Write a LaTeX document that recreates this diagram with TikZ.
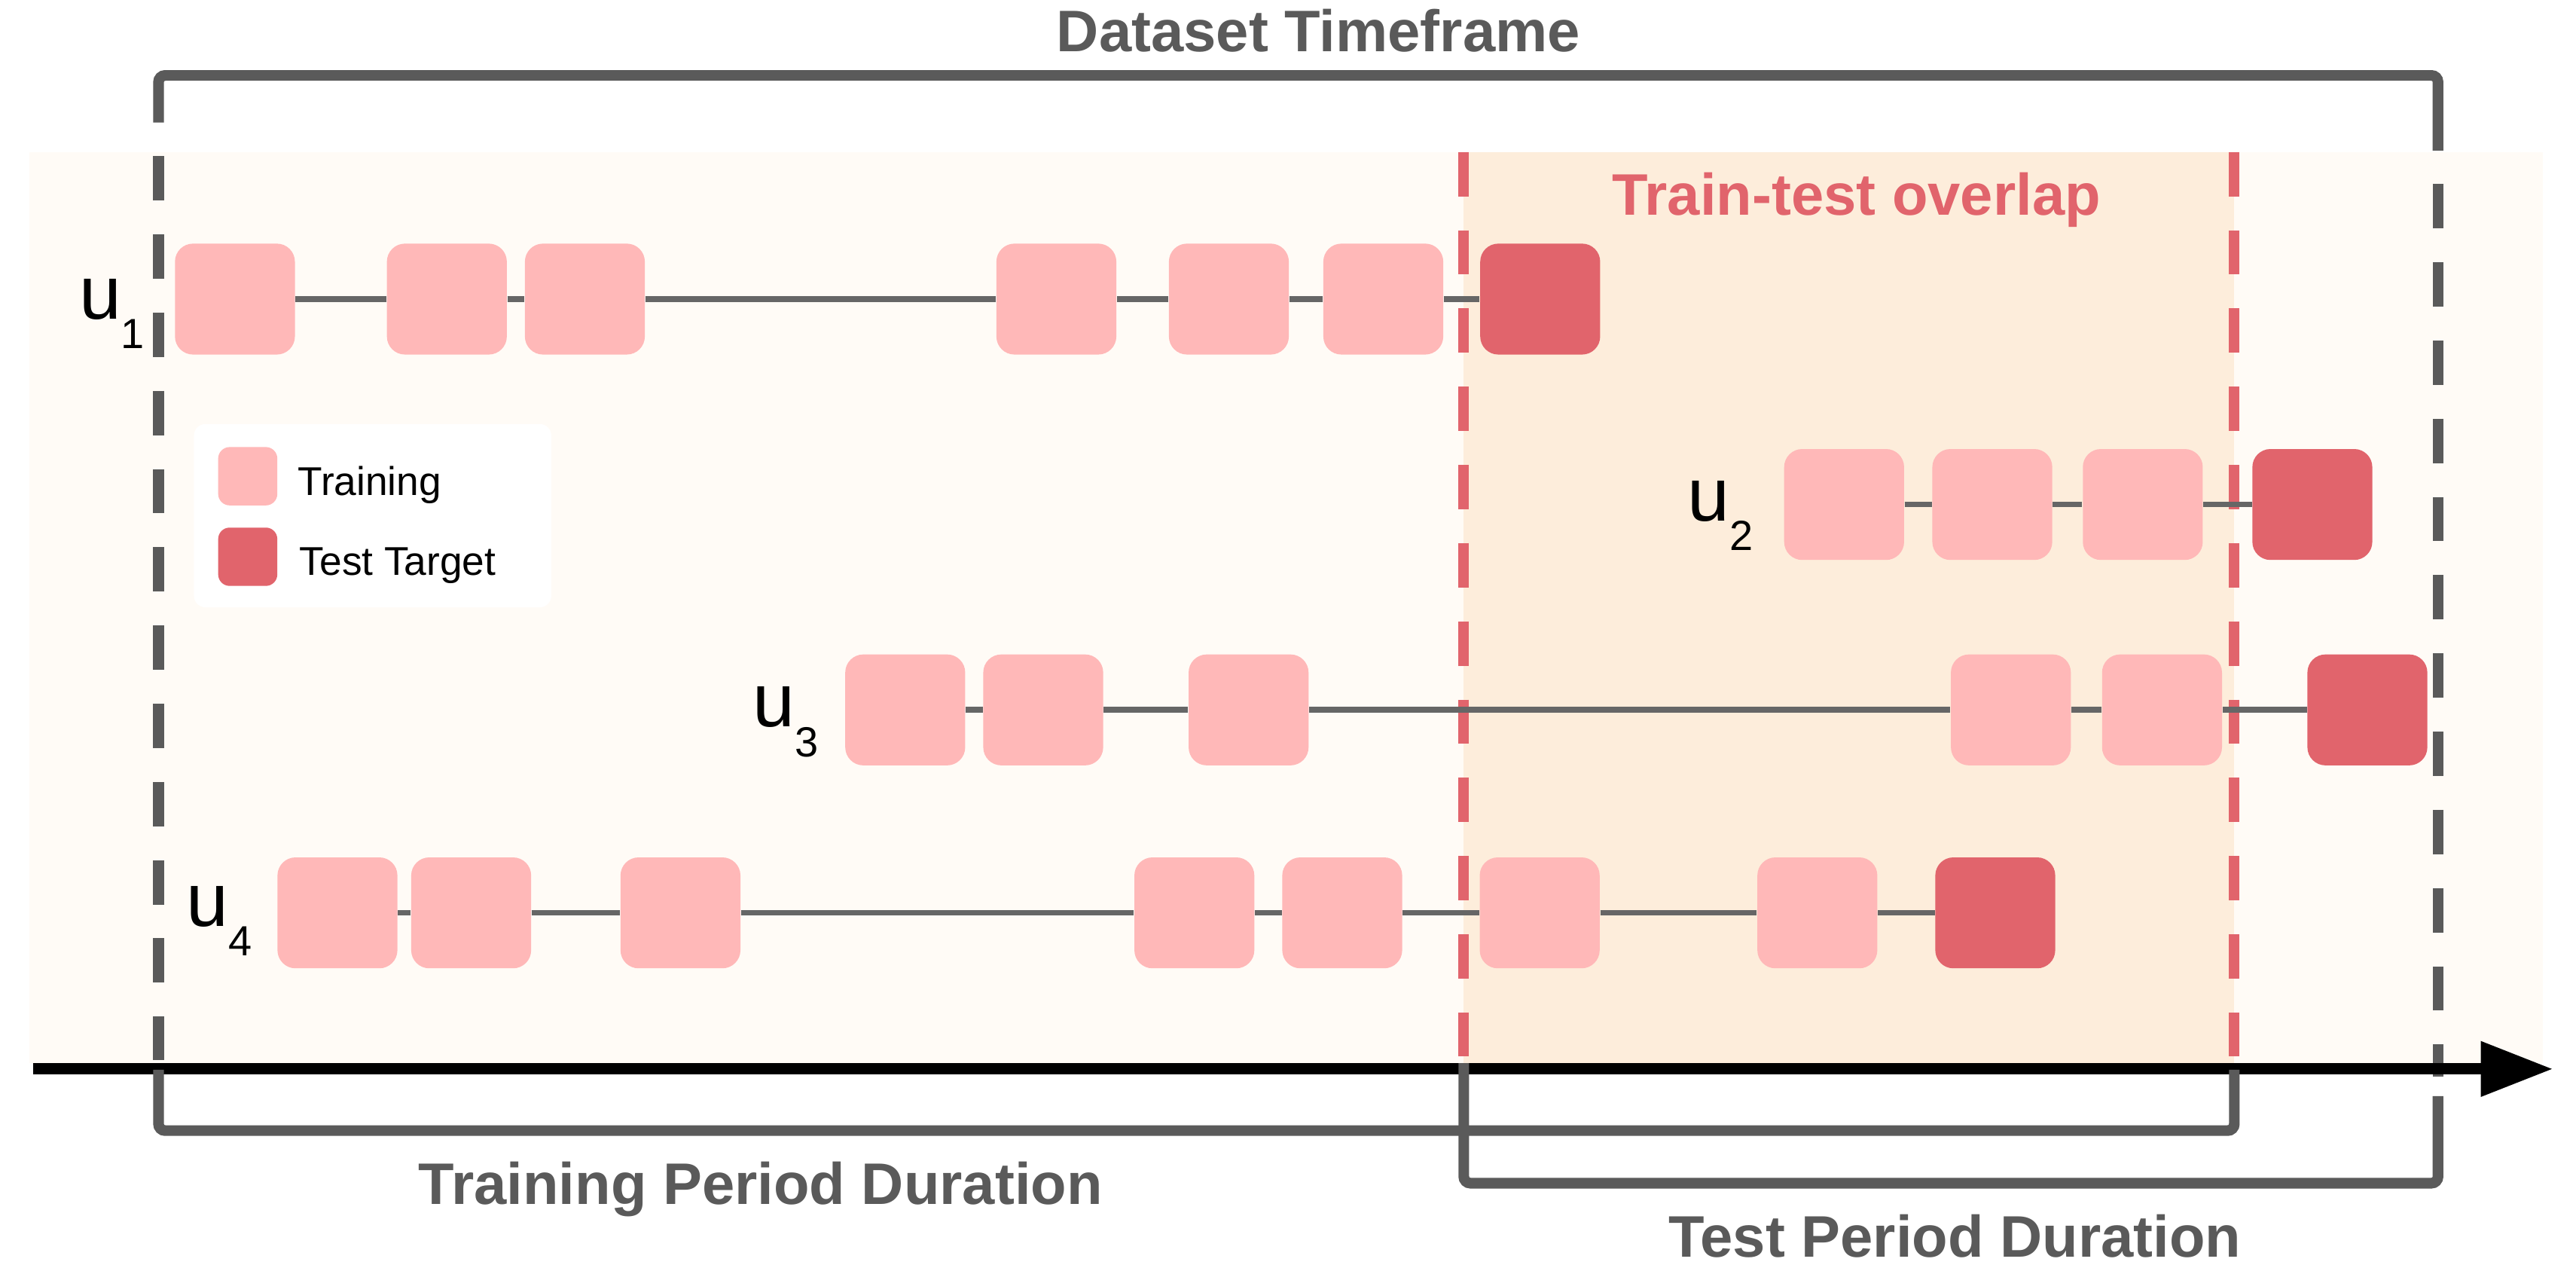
\documentclass[tikz,border=0pt]{standalone}
\usepackage{fontspec}
\setmainfont{Liberation Sans}
\usetikzlibrary{arrows.meta}
\definecolor{BandClr}{HTML}{FFFBF6}
\definecolor{OverlapClr}{HTML}{FDEDDB}
\definecolor{TrainClr}{HTML}{FFB8B8}
\definecolor{TestClr}{HTML}{E1646C}
\definecolor{FrameClr}{HTML}{5A5A5A}
\definecolor{SeqClr}{HTML}{666666}

\tikzset{
  evt/.style={minimum width=14.6mm,minimum height=13.5mm,rounded corners=2.2mm,inner sep=0pt},
  trainevt/.style={evt,fill=TrainClr},
  testevt/.style={evt,fill=TestClr},
  keyevt/.style={minimum width=7.2mm,minimum height=7.1mm,rounded corners=1.4mm},
  seq/.style={draw=SeqClr,line width=0.7mm},
  frame/.style={draw=FrameClr,line width=1.3mm,rounded corners=0.8mm},
  dashframe/.style={frame,dash pattern=on 5.4mm off 4.12mm},
  overlapline/.style={draw=TestClr,line width=1.3mm,dash pattern=on 5.4mm off 4.12mm},
  periodlbl/.style={text=FrameClr,font=\fontsize{20.3}{24}\selectfont\bfseries,anchor=base,inner sep=0pt},
  userlbl/.style={anchor=base west,inner sep=0pt,font=\fontsize{26.2}{30}\selectfont},
  keylbl/.style={anchor=base west,inner sep=0pt,font=\fontsize{13.9}{16}\selectfont},
}
\newcommand{\usr}[1]{u\raisebox{-3.6mm}{\fontsize{14.6}{16}\selectfont #1}}

\begin{document}
\begin{tikzpicture}[x=0.2mm,y=-0.2mm]
\useasboundingbox (0,0) rectangle (1568,773);

\fill[BandClr] (18,92.5) rectangle (1548,647);
\fill[OverlapClr] (891,92.5) rectangle (1360,647);
\draw[overlapline] (891,92.5) -- (891,643);
\draw[overlapline] (1360,92.5) -- (1360,643);

\foreach \x [count=\i] in {143,272,356,643,748,842}
  \node[trainevt] (a\i) at (\x,182) {};
\node[testevt] (a7) at (937.5,182) {};
\foreach \x [count=\i] in {1122.5,1212.7,1304.3}
  \node[trainevt] (b\i) at (\x,307) {};
\node[testevt] (b4) at (1407.5,307) {};
\foreach \x [count=\i] in {551,635,760,1224,1316}
  \node[trainevt] (c\i) at (\x,432) {};
\node[testevt] (c6) at (1441,432) {};
\foreach \x [count=\i] in {205.4,286.8,414.2,727,817,937.2,1106.2}
  \node[trainevt] (d\i) at (\x,555.5) {};
\node[testevt] (d8) at (1214.5,555.5) {};

\foreach \r/\n in {a/6,b/3,c/5,d/7}
  \foreach \i in {1,...,\n}{
    \pgfmathtruncatemacro\j{\i+1}
    \draw[seq] (\r\i) -- (\r\j);
  }

\node[userlbl] (u1) at (47.8,194) {\usr{1}};
\node[userlbl] (u2) at (1027,317) {\usr{2}};
\node[userlbl] (u3) at (458,442.4) {\usr{3}};
\node[userlbl] (u4) at (113,563.6) {\usr{4}};

\node[fill=white,rounded corners=1.4mm,minimum width=43.5mm,minimum height=22.3mm,inner sep=0pt] (key) at (226.8,313.8) {};
\node[keyevt,fill=TrainClr] (keytrain) at (150.8,289.8) {};
\node[keyevt,fill=TestClr] (keytest) at (150.8,338.8) {};
\node[keylbl] (keytraintxt) at (181,301.6) {Training};
\node[keylbl] (keytesttxt) at (182,350) {Test Target};

\draw[frame] (96.5,74.6) -- (96.5,45.9) -- (1484,45.9) -- (1484,91.6);
\draw[dashframe] (96.5,95) -- (96.5,645);
\draw[dashframe] (1484,112) -- (1484,655);

\coordinate (t0) at (20,650.5);
\coordinate (t1) at (1554,650.5);
\draw[line width=1.4mm,-{Triangle[length=8.8mm,width=6.4mm]}] (t0) -- (t1);

\draw[frame] (96.5,651) -- (96.5,688) -- (1360,688) -- (1360,651);
\draw[frame] (891,647) -- (891,720) -- (1484,720) -- (1484,667);

\node[periodlbl] (dset) at (802.5,31.3) {Dataset Timeframe};
\node[periodlbl,text=TestClr] (overlap) at (1130,131) {Train-test overlap};
\node[periodlbl] (trainper) at (463,733) {Training Period Duration};
\node[periodlbl] (testper) at (1190,765) {Test Period Duration};
\end{tikzpicture}
\end{document}
